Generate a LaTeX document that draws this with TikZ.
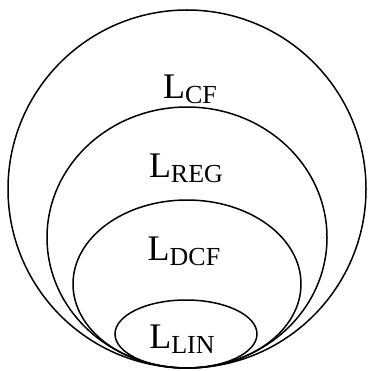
\documentclass[tikz,border=0pt]{standalone}
\usepackage{fontspec}
\setmainfont{Liberation Serif}
\newcommand{\langlabel}[1]{\fontsize{36}{36}\selectfont L\raisebox{-5pt}{\fontsize{26}{26}\selectfont #1}}
\tikzset{
  setline/.style={draw=black, line width=1.5pt},
  lang/.style={anchor=base, inner sep=0pt}
}
\begin{document}
\begin{tikzpicture}[x=1pt, y=-1pt]
  \useasboundingbox (0,0) rectangle (370,371);
  % nested language classes, all touching at the bottom point
  \draw[setline] (187,189) ellipse [x radius=179, y radius=179];
  \draw[setline] (187,237.5) ellipse [x radius=140, y radius=130.5];
  \draw[setline] (187,284) ellipse [x radius=114, y radius=84];
  \draw[setline] (186,334) ellipse [x radius=71, y radius=34];
  % class labels
  \node[lang] (cf)  at (190,99)  {\langlabel{CF}};
  \node[lang] (reg) at (186,178) {\langlabel{REG}};
  \node[lang] (dcf) at (184,260) {\langlabel{DCF}};
  \node[lang] (lin) at (182,348) {\langlabel{LIN}};
\end{tikzpicture}
\end{document}
